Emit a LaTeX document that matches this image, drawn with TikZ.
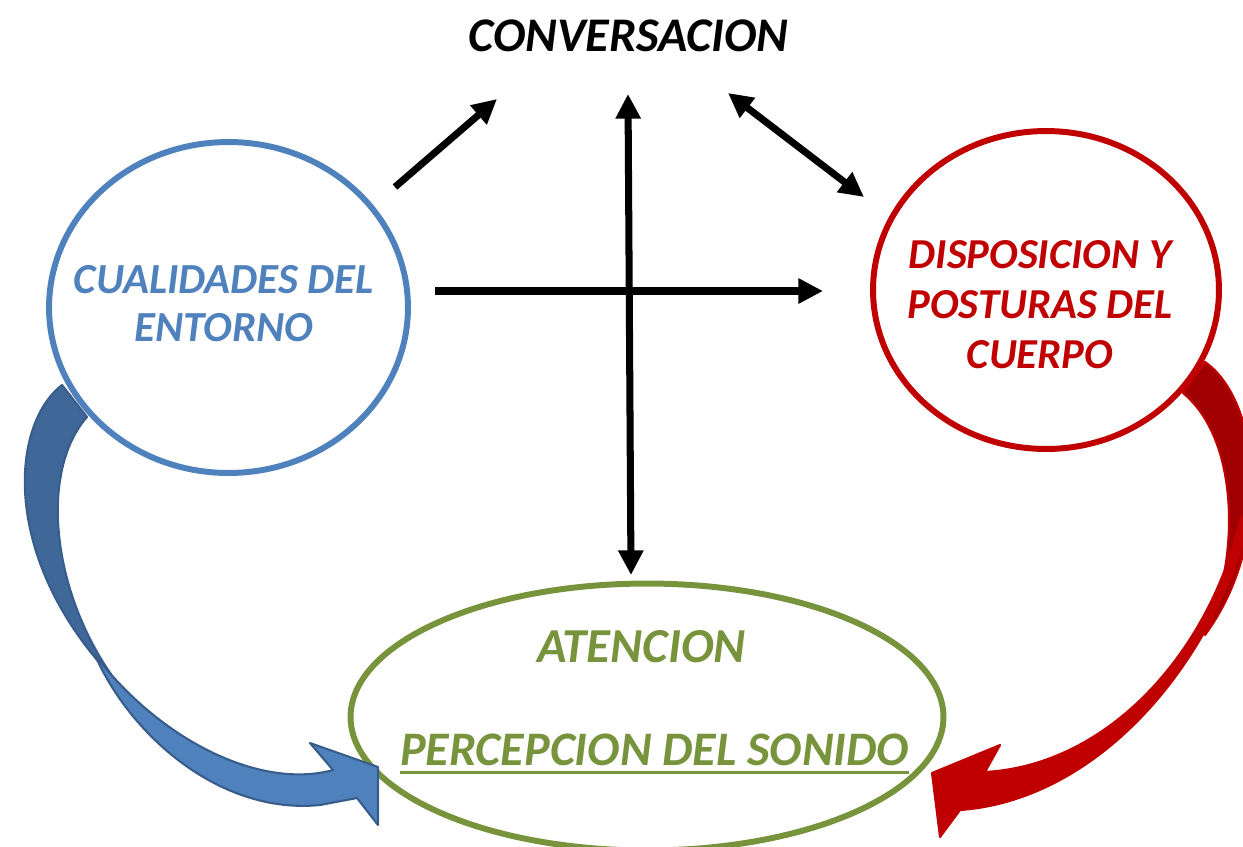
\documentclass[tikz,border=0pt]{standalone}
\usepackage{fontspec}
\setmainfont{Carlito}
\usetikzlibrary{arrows.meta,shapes.geometric}
\definecolor{azul}{HTML}{4F81BD}
\definecolor{azulosc}{HTML}{3F6898}
\definecolor{azulbor}{HTML}{385D8A}
\definecolor{rojo}{HTML}{C00000}
\definecolor{rojoosc}{HTML}{A00000}
\definecolor{verde}{HTML}{77933C}
\newcommand{\subrayado}[1]{\setbox0\hbox{#1}\rlap{\rule[-4.85pt]{\wd0}{1.7pt}}\box0}
\begin{document}
\begin{tikzpicture}[x=0.02cm,y=-0.02cm,
	flecha/.style={line width=4pt,-{Triangle[length=14pt,width=13.6pt]}},
	dobleflecha/.style={line width=4pt,{Triangle[length=14pt,width=13.6pt]}-{Triangle[length=14pt,width=13.6pt]}},
	globo/.style={ellipse,line width=3.4pt,inner sep=0pt},
	texto/.style={font=\fontsize{24.4}{27.2}\selectfont\bfseries\itshape,align=center,inner sep=0pt}]
		\useasboundingbox (0,0) rectangle (1243,846);
		\clip (0,0) rectangle (1243,846);
		% circulos
		\node [globo,draw=azul,minimum width=7.18cm,minimum height=6.62cm] (entorno) at (228.5,307.5) {};
		\node [globo,draw=rojo,minimum width=6.92cm,minimum height=6.36cm] (cuerpo) at (1046,290) {};
		\node [globo,draw=verde,minimum width=11.86cm,minimum height=5.34cm] (atencion) at (647,717) {};
		% textos
		\node [texto,font=\fontsize{27.5}{32}\selectfont\bfseries\itshape] (conv) at (628.5,36) {CONVERSACION};
		\node [texto,text=azul] (entornotxt) at (224,303.5) {CUALIDADES DEL\\ENTORNO};
		\node [texto,text=rojo,font=\fontsize{24.3}{28.3}\selectfont\bfseries\itshape] (cuerpotxt) at (1040,304.5) {DISPOSICION Y\\POSTURAS DEL\\CUERPO};
		\node [texto,text=verde,font=\fontsize{27.8}{32}\selectfont\bfseries\itshape] (atenciontxt) at (641.5,646.5) {ATENCION};
		\node [texto,text=verde,font=\fontsize{27.4}{32}\selectfont\bfseries\itshape] (sonido) at (654.5,754) {\subrayado{PERCEPCION DEL SONIDO}};
		% flechas negras
		\coordinate (e1) at (395,187);
		\coordinate (c1) at (497,99);
		\coordinate (c2) at (628,94);
		\coordinate (a2) at (631,575);
		\coordinate (c3) at (728,93);
		\coordinate (d3) at (864,197);
		\coordinate (e4) at (435,291);
		\coordinate (d4) at (823,291);
		\draw [flecha] (e1) -- (c1);
		\draw [dobleflecha] (c2) -- (a2);
		\draw [dobleflecha] (c3) -- (d3);
		\draw [flecha] (e4) -- (d4);
		% flecha curva azul
		\filldraw [fill=azulosc,draw=azulbor,line width=1.2pt,line join=round] (62,385) .. controls (10,425) and (0,560) .. (115,680)
			.. controls (50,590) and (40,470) .. (87,417) -- cycle;
		\filldraw [fill=azul,draw=azulbor,line width=1.2pt,line join=round] (95,655) .. controls (160,740) and (260,790) .. (333,770)
			-- (310,743) -- (378,767) -- (378,825) -- (357,798) -- (320,805) .. controls (220,815) and (130,735) .. (95,655) -- cycle;
		% flecha curva roja
		\filldraw [fill=rojoosc,draw=rojo,line width=1.2pt,line join=round] (1205,362) .. controls (1260,400) and (1275,540) .. (1205,635)
			.. controls (1240,560) and (1240,440) .. (1183,393) -- cycle;
		\filldraw [fill=rojo,draw=rojo,line width=1.2pt,line join=round] (1240,520) .. controls (1210,650) and (1110,765) .. (985,772)
			-- (1000,745) -- (932,773) -- (940,837) -- (960,810) .. controls (1100,800) and (1220,660) .. (1255,500) -- cycle;
	\end{tikzpicture}
\end{document}
